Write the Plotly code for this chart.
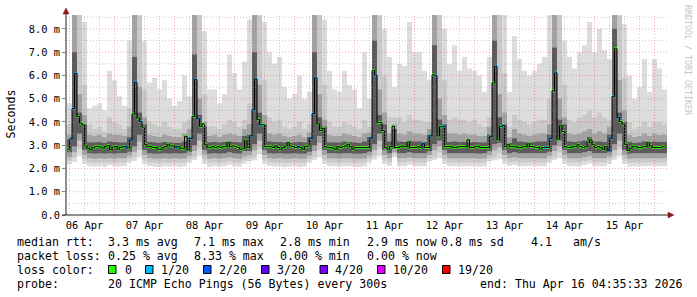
import plotly.graph_objects as go
from datetime import datetime, timedelta

# ---------------- data ----------------
series_start = datetime(2026, 4, 6, 5, 0, 0)      # first hourly step
window_start = datetime(2026, 4, 6, 4, 35, 33)
window_hours = 241.2

# hourly median RTT in ms
median_rtt_ms = [
    2.83, 3.27, 4.58, 6.09, 4.24, 3.95, 3.88, 2.97, 2.87, 2.80,
    2.90, 2.94, 2.94, 2.92, 2.88, 2.94, 2.99, 2.80, 2.92, 2.94,
    2.83, 2.91, 2.94, 2.94, 2.88, 3.23, 4.34, 5.70, 4.17, 4.02,
    3.78, 3.02, 2.94, 2.94, 2.90, 2.90, 2.83, 2.83, 2.90, 2.94,
    3.04, 2.97, 2.97, 2.91, 2.94, 2.87, 2.87, 3.38, 2.80, 3.29,
    4.24, 5.82, 4.14, 3.81, 3.91, 3.02, 2.91, 2.91, 2.94, 2.90,
    2.94, 2.90, 2.94, 2.94, 3.11, 2.94, 2.97, 2.94, 2.90, 2.83,
    2.87, 3.19, 2.90, 3.40, 4.53, 5.85, 4.10, 3.88, 3.88, 2.94,
    2.94, 2.94, 2.90, 2.97, 2.90, 2.83, 2.90, 2.97, 3.11, 2.97,
    2.94, 2.90, 2.94, 2.90, 2.83, 2.94, 2.97, 3.30, 4.36, 5.90,
    3.92, 3.63, 3.73, 2.94, 2.90, 2.90, 2.87, 2.83, 2.94, 2.90,
    2.94, 2.97, 3.04, 2.94, 2.83, 2.90, 2.90, 2.90, 2.90, 2.90,
    2.90, 3.30, 6.21, 6.02, 3.98, 3.98, 3.63, 2.90, 2.83, 2.94,
    3.81, 2.90, 2.90, 2.94, 2.97, 2.94, 3.13, 2.90, 2.90, 2.90,
    2.94, 2.90, 3.06, 2.90, 2.90, 3.40, 6.03, 5.99, 3.40, 3.79,
    3.81, 2.94, 2.94, 2.94, 2.90, 2.90, 2.94, 2.94, 2.94, 2.94,
    3.23, 2.90, 2.90, 2.94, 2.94, 2.90, 2.90, 2.90, 2.90, 3.37,
    5.68, 6.39, 3.23, 3.81, 3.84, 2.94, 3.02, 2.94, 2.94, 2.94,
    2.90, 2.90, 2.94, 2.94, 3.06, 2.94, 2.94, 2.90, 2.90, 2.83,
    2.90, 2.91, 2.90, 3.30, 5.34, 6.11, 3.26, 3.84, 3.59, 2.94,
    2.90, 2.90, 2.94, 2.94, 3.02, 2.94, 2.90, 2.94, 3.11, 3.23,
    3.02, 2.90, 2.94, 2.90, 2.83, 2.94, 2.80, 3.30, 5.10, 7.15,
    4.19, 4.02, 3.91, 3.04, 2.77, 2.87, 2.94, 2.94, 2.90, 2.90,
    2.94, 2.94, 3.11, 2.97, 2.90, 2.90, 2.90, 2.90, 2.94,
]

# hours (index into median_rtt_ms) with packet loss, and lost pings out of 20
loss_hour_index = [1, 2, 3, 23, 25, 27, 29, 43, 49, 51, 52, 73, 74, 75, 77, 92, 97, 98, 99,
                   121, 123, 142, 145, 147, 150, 169, 171, 174, 191, 193, 195,
                   216, 217, 218, 220]
loss_hour_count = [1, 1, 1, 1, 1, 1, 1, 1, 1, 1, 1, 1, 1, 1, 1, 1, 1, 1, 1,
                   1, 1, 1, 1, 1, 1, 1, 1, 1, 1, 1, 1,
                   2, 1, 1, 1]

# smoke (ping distribution) in 2-hour steps, ms
smoke_max_ms = [
    4.8, 8.7, 8.7, 8.3, 4.6, 4.7, 4.8, 4.5, 6.2, 5.8, 5.1, 4.7,
    7.5, 8.7, 8.7, 7.5, 5.7, 5.9, 5.4, 5.8, 5.0, 4.7, 4.9, 6.0,
    5.1, 8.7, 8.7, 7.9, 5.4, 5.4, 4.8, 5.2, 6.9, 6.1, 5.4, 6.6,
    8.4, 8.7, 8.7, 8.3, 7.0, 6.5, 6.8, 5.5, 5.0, 5.2, 6.0, 5.0,
    5.3, 8.7, 8.7, 8.4, 6.2, 5.4, 5.3, 6.2, 5.6, 5.4, 4.6, 7.0,
    5.0, 8.7, 8.7, 8.0, 6.8, 5.5, 6.5, 6.4, 8.3, 7.0, 7.0, 6.2,
    5.8, 8.7, 8.7, 8.0, 6.5, 7.3, 6.2, 6.8, 6.3, 6.2, 6.0, 5.3,
    6.8, 8.7, 8.7, 8.7, 5.3, 7.7, 6.7, 6.2, 6.0, 6.2, 6.5, 6.8,
    8.7, 8.7, 8.7, 7.5, 6.8, 6.3, 7.0, 7.3, 8.3, 7.0, 8.0, 7.1,
    6.7, 8.7, 8.7, 8.2, 6.0, 5.0, 5.5, 6.7, 5.3, 6.7, 6.3, 5.4,
]
smoke_hi2_ms = [
    3.9, 8.7, 8.7, 5.6, 3.9, 3.7, 3.8, 3.6, 4.2, 4.0, 3.9, 3.7,
    4.6, 8.7, 8.7, 5.4, 4.0, 3.9, 3.8, 4.0, 3.8, 3.7, 3.7, 4.0,
    4.1, 8.7, 8.7, 5.2, 3.8, 3.8, 3.7, 3.9, 4.1, 4.0, 3.8, 4.1,
    4.8, 8.7, 8.7, 5.8, 4.2, 4.0, 4.1, 3.8, 3.7, 3.8, 4.0, 3.7,
    3.9, 8.7, 8.7, 5.6, 4.0, 3.8, 3.8, 4.0, 3.9, 3.8, 3.7, 4.1,
    3.8, 8.7, 8.7, 6.0, 4.2, 4.2, 4.2, 4.0, 4.3, 4.1, 4.1, 4.0,
    4.0, 8.7, 8.7, 5.8, 4.1, 4.2, 4.1, 4.1, 4.0, 4.1, 3.9, 3.8,
    4.2, 8.7, 8.7, 6.1, 3.8, 4.3, 4.1, 4.0, 3.9, 4.0, 4.1, 4.1,
    5.0, 8.7, 8.7, 5.6, 4.1, 4.0, 4.2, 4.3, 4.5, 4.2, 4.4, 4.2,
    4.1, 8.7, 8.7, 5.9, 4.0, 3.7, 3.8, 4.0, 3.8, 4.0, 4.0, 3.9,
]
smoke_hi3_ms = [
    3.45, 8.7, 5.2, 4.3, 3.45, 3.4, 3.45, 3.35, 3.5, 3.45, 3.45, 3.4,
    3.8, 8.7, 5.5, 4.2, 3.45, 3.4, 3.35, 3.45, 3.4, 3.35, 3.35, 3.5,
    3.7, 8.7, 5.0, 4.0, 3.4, 3.45, 3.35, 3.45, 3.5, 3.45, 3.4, 3.7,
    3.9, 8.7, 5.6, 4.3, 3.5, 3.45, 3.5, 3.4, 3.35, 3.4, 3.45, 3.35,
    3.55, 8.7, 5.2, 4.1, 3.45, 3.4, 3.4, 3.5, 3.45, 3.4, 3.35, 3.5,
    3.55, 8.7, 5.4, 4.4, 3.5, 3.9, 3.5, 3.45, 3.6, 3.5, 3.5, 3.45,
    3.7, 8.7, 5.0, 4.3, 3.5, 3.5, 3.45, 3.5, 3.45, 3.45, 3.4, 3.4,
    3.8, 8.7, 5.2, 4.4, 3.35, 3.7, 3.5, 3.45, 3.4, 3.45, 3.5, 3.5,
    3.9, 8.7, 5.0, 4.2, 3.5, 3.45, 3.5, 3.6, 3.7, 3.5, 3.6, 3.5,
    3.8, 8.7, 5.8, 4.5, 3.45, 3.35, 3.4, 3.5, 3.4, 3.5, 3.45, 3.45,
]
smoke_hi4_ms = [
    3.25, 7.0, 4.4, 3.9, 3.12, 3.12, 3.14, 3.1, 3.16, 3.14, 3.12, 3.12,
    3.35, 6.8, 4.4, 3.9, 3.14, 3.12, 3.1, 3.14, 3.12, 3.1, 3.1, 3.16,
    3.35, 6.9, 4.3, 3.8, 3.12, 3.14, 3.12, 3.14, 3.16, 3.14, 3.12, 3.4,
    3.45, 7.0, 4.4, 3.9, 3.16, 3.14, 3.14, 3.12, 3.1, 3.12, 3.14, 3.12,
    3.35, 7.0, 4.2, 3.8, 3.12, 3.12, 3.12, 3.16, 3.14, 3.12, 3.1, 3.16,
    3.35, 7.5, 4.3, 3.9, 3.16, 3.7, 3.16, 3.14, 3.2, 3.16, 3.16, 3.14,
    3.45, 7.3, 4.1, 3.9, 3.14, 3.16, 3.14, 3.14, 3.12, 3.14, 3.12, 3.12,
    3.45, 7.5, 4.2, 3.9, 3.1, 3.3, 3.16, 3.14, 3.12, 3.14, 3.16, 3.16,
    3.45, 7.2, 4.1, 3.9, 3.16, 3.14, 3.16, 3.2, 3.35, 3.16, 3.16, 3.14,
    3.45, 8.0, 4.4, 4.0, 3.14, 3.1, 3.12, 3.16, 3.12, 3.16, 3.14, 3.14,
]
smoke_lo4_ms = [
    2.7, 2.95, 3.5, 2.8, 2.66, 2.64, 2.66, 2.64, 2.66, 2.64, 2.66, 2.66,
    2.72, 2.95, 3.45, 2.8, 2.66, 2.64, 2.64, 2.66, 2.64, 2.66, 2.64, 2.66,
    2.72, 3.0, 3.5, 2.8, 2.64, 2.66, 2.64, 2.66, 2.7, 2.66, 2.64, 2.75,
    2.75, 3.05, 3.5, 2.8, 2.66, 2.64, 2.66, 2.64, 2.64, 2.66, 2.64, 2.64,
    2.72, 3.0, 3.4, 2.8, 2.66, 2.66, 2.64, 2.66, 2.66, 2.64, 2.64, 2.66,
    2.72, 3.05, 3.5, 2.8, 2.66, 2.85, 2.66, 2.66, 2.7, 2.66, 2.66, 2.66,
    2.75, 3.05, 3.2, 2.8, 2.66, 2.66, 2.66, 2.66, 2.66, 2.66, 2.64, 2.66,
    2.75, 3.05, 3.1, 2.8, 2.66, 2.7, 2.66, 2.66, 2.66, 2.66, 2.66, 2.66,
    2.72, 3.0, 3.2, 2.8, 2.66, 2.66, 2.66, 2.7, 2.75, 2.66, 2.66, 2.66,
    2.7, 3.05, 3.5, 2.8, 2.64, 2.66, 2.66, 2.66, 2.66, 2.66, 2.66, 2.66,
]
smoke_lo3_ms = [
    2.5, 2.7, 3.2, 2.58, 2.44, 2.42, 2.44, 2.42, 2.44, 2.42, 2.44, 2.44,
    2.55, 2.72, 3.15, 2.58, 2.44, 2.42, 2.42, 2.44, 2.42, 2.44, 2.42, 2.44,
    2.55, 2.75, 3.2, 2.58, 2.42, 2.44, 2.42, 2.44, 2.48, 2.44, 2.42, 2.52,
    2.58, 2.78, 3.2, 2.58, 2.44, 2.42, 2.44, 2.42, 2.42, 2.44, 2.42, 2.42,
    2.55, 2.75, 3.1, 2.58, 2.44, 2.44, 2.42, 2.44, 2.44, 2.42, 2.42, 2.44,
    2.55, 2.78, 3.2, 2.58, 2.44, 2.7, 2.44, 2.44, 2.48, 2.44, 2.44, 2.44,
    2.58, 2.78, 2.95, 2.58, 2.44, 2.44, 2.44, 2.44, 2.44, 2.44, 2.42, 2.44,
    2.58, 2.78, 2.9, 2.58, 2.44, 2.48, 2.44, 2.44, 2.44, 2.44, 2.44, 2.44,
    2.55, 2.75, 2.95, 2.58, 2.44, 2.44, 2.44, 2.48, 2.54, 2.44, 2.44, 2.44,
    2.52, 2.78, 3.2, 2.58, 2.42, 2.44, 2.44, 2.44, 2.44, 2.44, 2.44, 2.44,
]
smoke_lo2_ms = [
    2.35, 2.48, 2.85, 2.38, 2.26, 2.24, 2.26, 2.24, 2.26, 2.24, 2.26, 2.26,
    2.4, 2.5, 2.8, 2.38, 2.26, 2.24, 2.24, 2.26, 2.24, 2.26, 2.24, 2.26,
    2.4, 2.52, 2.85, 2.38, 2.24, 2.26, 2.24, 2.26, 2.3, 2.26, 2.24, 2.35,
    2.42, 2.52, 2.85, 2.38, 2.26, 2.24, 2.26, 2.24, 2.24, 2.26, 2.24, 2.24,
    2.4, 2.52, 2.8, 2.38, 2.26, 2.26, 2.24, 2.26, 2.26, 2.24, 2.24, 2.26,
    2.4, 2.55, 2.85, 2.38, 2.26, 2.6, 2.26, 2.26, 2.3, 2.26, 2.26, 2.26,
    2.42, 2.52, 2.7, 2.38, 2.26, 2.26, 2.26, 2.26, 2.26, 2.26, 2.24, 2.26,
    2.42, 2.52, 2.65, 2.38, 2.26, 2.3, 2.26, 2.26, 2.26, 2.26, 2.26, 2.26,
    2.4, 2.52, 2.7, 2.38, 2.26, 2.26, 2.26, 2.3, 2.35, 2.26, 2.26, 2.26,
    2.38, 2.55, 2.85, 2.38, 2.24, 2.26, 2.26, 2.26, 2.26, 2.26, 2.26, 2.26,
]
smoke_min_ms = [
    2.18, 2.28, 2.55, 2.2, 2.1, 2.08, 2.1, 2.06, 2.14, 2.1, 2.08, 2.1,
    2.25, 2.32, 2.5, 2.2, 2.1, 2.08, 2.06, 2.1, 2.08, 2.1, 2.06, 2.1,
    2.25, 2.35, 2.55, 2.2, 2.06, 2.1, 2.08, 2.1, 2.16, 2.1, 2.08, 2.2,
    2.3, 2.35, 2.6, 2.2, 2.1, 2.08, 2.1, 2.06, 2.08, 2.1, 2.06, 2.08,
    2.25, 2.35, 2.5, 2.2, 2.1, 2.1, 2.08, 2.1, 2.1, 2.08, 2.06, 2.1,
    2.25, 2.38, 2.55, 2.2, 2.1, 2.5, 2.1, 2.1, 2.16, 2.1, 2.1, 2.1,
    2.3, 2.35, 2.45, 2.2, 2.1, 2.1, 2.1, 2.1, 2.1, 2.1, 2.08, 2.1,
    2.3, 2.35, 2.4, 2.2, 2.1, 2.16, 2.1, 2.1, 2.1, 2.1, 2.1, 2.1,
    2.25, 2.35, 2.45, 2.2, 2.1, 2.1, 2.1, 2.16, 2.2, 2.1, 2.1, 2.1,
    2.2, 2.38, 2.55, 2.2, 2.08, 2.1, 2.1, 2.1, 2.1, 2.1, 2.1, 2.1,
]

y_tick_values = [0, 1, 2, 3, 4, 5, 6, 7, 8]
y_tick_labels = ["0.0", "1.0 m", "2.0 m", "3.0 m", "4.0 m", "5.0 m", "6.0 m", "7.0 m", "8.0 m"]

loss_levels = [0, 1, 2, 3, 4, 10, 19]
loss_labels = ["0", "1/20", "2/20", "3/20", "4/20", "10/20", "19/20"]
loss_colors = ["#26ff00", "#00b8ff", "#0059ff", "#5e00ff", "#7e00ff", "#dd00ff", "#ff0000"]

stats_rtt = ["3.3 ms avg", "7.1 ms max", "2.8 ms min", "2.9 ms now", "0.8 ms sd", "4.1", "am/s"]
stats_loss = ["0.25 % avg", "8.33 % max", "0.00 % min", "0.00 % now"]
probe_text = "20 ICMP Echo Pings (56 Bytes) every 300s"
end_text = "end: Thu Apr 16 04:35:33 2026"

# ---------------- layout geometry (pixels) ----------------
W, H = 697, 297
PL, PR, PT, PB = 66, 669, 15, 215
FONT = "DejaVu Sans Mono"
TXT = 11.6


def pxx(x):
    return (x - PL) / (PR - PL)


def pxy(y):
    return (PB - y) / (PB - PT)


hour = timedelta(hours=1)
n_med = len(median_rtt_ms)
med_centers = [series_start + (k + 0.5) * hour for k in range(n_med)]
med_edges = [series_start + k * hour for k in range(n_med + 1)]
n_smoke = len(smoke_max_ms)
smoke_centers = [series_start + (2 * j + 1) * hour for j in range(n_smoke)]

loss_full = [0] * n_med
for i, c in zip(loss_hour_index, loss_hour_count):
    loss_full[i] = c

fig = go.Figure()

smoke_layers = [
    (smoke_min_ms, smoke_max_ms, "#dddddd"),
    (smoke_lo2_ms, smoke_hi2_ms, "#c9c9c9"),
    (smoke_lo3_ms, smoke_hi3_ms, "#a2a2a2"),
    (smoke_lo4_ms, smoke_hi4_ms, "#5c5c5c"),
]
for lo, hi, col in smoke_layers:
    fig.add_trace(go.Bar(
        x=smoke_centers, base=lo, y=[h - l for h, l in zip(hi, lo)],
        width=2 * 3600 * 1000, marker=dict(color=col, line=dict(width=0)),
        hoverinfo="skip", showlegend=False,
    ))

# median line (step)
fig.add_trace(go.Scatter(
    x=med_edges, y=median_rtt_ms + [median_rtt_ms[-1]], mode="lines",
    line=dict(color="#000000", width=1, shape="hv"), hoverinfo="skip", showlegend=False,
))

# loss-coloured median marks
sq_h = 3.0 / ((PB - PT) / 8.6)
col_map = dict(zip(loss_levels, loss_colors))
fig.add_trace(go.Bar(
    x=med_centers, base=[m - sq_h / 2 for m in median_rtt_ms], y=[sq_h] * n_med,
    width=3600 * 1000, marker=dict(color=[col_map[l] for l in loss_full], line=dict(width=0)),
    hoverinfo="skip", showlegend=False,
))

shapes = []
# grid on top of the data
red_grid = "rgba(220,60,60,0.42)"
grey_grid = "rgba(150,150,150,0.5)"
g = datetime(2026, 4, 6, 6, 0, 0)
x_end = window_start + timedelta(hours=window_hours)
while g < x_end:
    shapes.append(dict(type="line", xref="x", yref="paper", x0=g, x1=g, y0=0, y1=1,
                       line=dict(color=red_grid if g.hour == 0 else grey_grid, width=1, dash="1px,2px"),
                       layer="above"))
    g += timedelta(hours=6)
for i in range(1, 18):
    v = i * 0.5
    shapes.append(dict(type="line", xref="paper", yref="y", x0=0, x1=1, y0=v, y1=v,
                       line=dict(color=red_grid if i % 2 == 0 else grey_grid, width=1, dash="1px,2px"),
                       layer="above"))

# axes with arrows
axis_col = "#202020"
arrow_col = "#8b1a1a"
shapes.append(dict(type="line", xref="paper", yref="paper", x0=0, x1=0, y0=0, y1=pxy(12),
                   line=dict(color=axis_col, width=1), layer="above"))
shapes.append(dict(type="line", xref="paper", yref="paper", x0=pxx(62), x1=pxx(670), y0=0, y1=0,
                   line=dict(color=axis_col, width=1), layer="above"))
shapes.append(dict(type="path", xref="paper", yref="paper",
                   path=f"M {pxx(66)} {pxy(8)} L {pxx(63)} {pxy(14)} L {pxx(69)} {pxy(14)} Z",
                   fillcolor=arrow_col, line=dict(color=arrow_col, width=0.5), layer="above"))
shapes.append(dict(type="path", xref="paper", yref="paper",
                   path=f"M {pxx(674)} {pxy(215)} L {pxx(668)} {pxy(212)} L {pxx(668)} {pxy(218)} Z",
                   fillcolor=arrow_col, line=dict(color=arrow_col, width=0.5), layer="above"))

annotations = []


def txt(x, y, s, size=TXT, color="#000000", angle=0, xanchor="left"):
    annotations.append(dict(xref="paper", yref="paper", x=pxx(x), y=pxy(y), text=s,
                            showarrow=False, xanchor=xanchor, yanchor="middle", textangle=angle,
                            font=dict(family=FONT, size=size, color=color), borderpad=0))


row1, row2, row3, row4 = 241.5, 255.5, 269.5, 283.5
txt(15.5, row1, "median rtt:")
for s, x in zip(stats_rtt, [107, 193, 279, 365.5, 440, 530, 572]):
    txt(x, row1, s)
txt(15.5, row2, "packet loss:")
for s, x in zip(stats_loss, [107, 193, 279, 365.5]):
    txt(x, row2, s)
txt(15.5, row3, "loss color:")
sq_x = [108.5, 145.5, 203.5, 261.5, 320, 377.5, 442.5]
lb_x = [123.5, 160, 217.5, 276, 333.5, 392, 456.5]
for c, lab, sx, lx in zip(loss_colors, loss_labels, sq_x, lb_x):
    shapes.append(dict(type="rect", xref="paper", yref="paper",
                       x0=pxx(sx), x1=pxx(sx + 7.5), y0=pxy(273.5), y1=pxy(265.5),
                       fillcolor=c, line=dict(color="#000000", width=1), layer="above"))
    txt(lx, row3, lab)
txt(15.5, row4, "probe:")
txt(107, row4, probe_text)
txt(479, row4, end_text)

txt(10.5, 114, "Seconds", angle=-90, xanchor="center")
txt(688, 60, "RRDTOOL / TOBI OETIKER", size=8.3, color="#c4c4c4", angle=90, xanchor="center")

fig.update_layout(
    width=W, height=H, margin=dict(l=PL, r=W - PR, t=PT, b=H - PB),
    paper_bgcolor="#ffffff", plot_bgcolor="#ffffff",
    barmode="overlay", showlegend=False,
    shapes=shapes, annotations=annotations,
    font=dict(family=FONT, size=10.4, color="#000000"),
    xaxis=dict(type="date", range=[window_start, x_end], showgrid=False, zeroline=False,
               showline=False, tick0="2026-04-06", dtick=86400000, tickformat="%d %b",
               ticklabelmode="period", ticks="", ticklabelstandoff=3,
               tickfont=dict(family=FONT, size=10.4)),
    yaxis=dict(range=[0, 8.6], showgrid=False, zeroline=False, showline=False,
               tickvals=y_tick_values, ticktext=y_tick_labels, ticks="outside", ticklen=3,
               tickcolor="#808080", tickfont=dict(family=FONT, size=10.4)),
)

fig.write_html("out.html")
